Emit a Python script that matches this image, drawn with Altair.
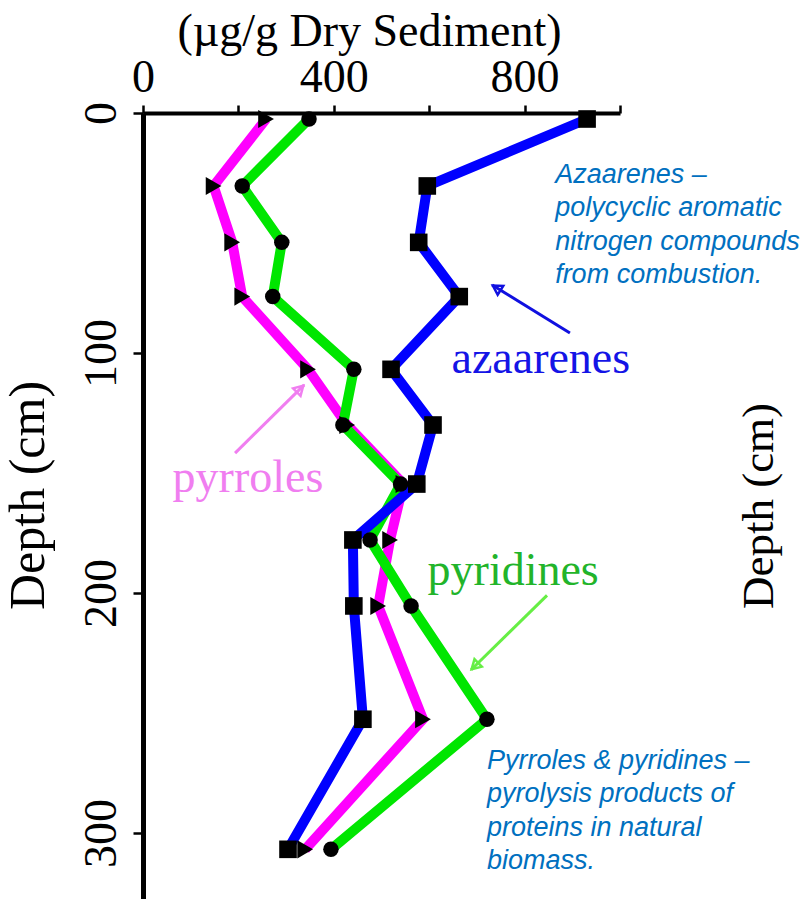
import altair as alt
import pandas as pd

# ---- data ----
depth = [2.5, 30.4, 53.9, 76.5, 106.8, 130.0, 154.6, 177.9, 205.4, 252.6, 306.8]
azaarenes = [931, 596, 578, 663, 520, 608, 574, 440, 442, 461, 304]
pyrroles = [258, 148, 187, 208, 346, 428, 546, 518, 493, 587, 340]
pyridines = [348, 208, 291, 272, 442, 419, 540, 476, 562, 721, 394]

series_names = ["pyrroles", "pyridines", "azaarenes"]
series_values = [pyrroles, pyridines, azaarenes]
series_colors = ["#ff00ff", "#00e600", "#0000ff"]
series_shapes = ["triangle-right", "circle", "square"]
series_sizes = [330, 240, 310]

x_ticks = [0, 200, 400, 600, 800, 1000]
y_ticks = [0, 100, 200, 300]

# in-plot labels
label_text = ["azaarenes", "pyrroles", "pyridines"]
label_x = [834, 220, 776]
label_depth = [108.3, 158.0, 196.7]
label_color = ["#1414e6", "#f07ef0", "#22b42a"]

# arrows (tail -> head) in data units
arrow_x = [895, 193, 847]
arrow_depth = [91.7, 141.7, 201.0]
arrow_x2 = [732, 338, 688]
arrow_depth2 = [71.7, 113.3, 232.0]
arrow_head_x = [744, 327, 698]
arrow_head_depth = [73.2, 115.4, 230.0]
arrow_angle = [302, 45, 226]
arrow_color = ["#1010e0", "#f07ef0", "#66ee44"]

notes = ["Azaarenes –\npolycyclic aromatic\nnitrogen compounds\nfrom combustion.",
         "Pyrroles & pyridines –\npyrolysis products of\nproteins in natural\nbiomass."]
note_x = [864, 721]
note_depth = [29.2, 273.3]

right_title = "Depth   (cm)"
right_title_x = [1321]
right_title_depth = [163.75]

SERIF = "Liberation Serif"
SANS = "Liberation Sans"

xscale = alt.Scale(domain=[0, 1000], nice=False, zero=False)
yscale = alt.Scale(domain=[0, 327.5], reverse=True, nice=False, zero=False)

xaxis = alt.Axis(
    orient="top", values=x_ticks,
    labelExpr="(datum.value == 0 || datum.value == 400 || datum.value == 800) ? datum.label : ''",
    labelFont=SERIF, labelFontSize=46, labelColor="black", labelFlush=False,
    labelOverlap=False, labelPadding=14, labelBaseline="alphabetic",
    tickSize=8, tickWidth=2.5, tickColor="black",
    domainColor="black", domainWidth=4, grid=False,
    title="(µg/g Dry Sediment)", titleFont=SERIF, titleFontSize=46,
    titleFontWeight="normal", titleColor="black", titleX=226, titleY=-68,
    titleAlign="center", titleBaseline="alphabetic", titleAngle=0,
)
yaxis = alt.Axis(
    orient="left", values=y_ticks,
    labelAngle=270, labelAlign="center", labelBaseline="alphabetic",
    labelFont=SERIF, labelFontSize=46, labelColor="black", labelPadding=18,
    labelFlush=False, labelOverlap=False,
    tickSize=10, tickWidth=2.5, tickColor="black",
    domainColor="black", domainWidth=5, grid=False,
    title="Depth   (cm)", titleFont=SERIF, titleFontSize=50,
    titleFontWeight="normal", titleColor="black", titleX=-100, titleY=382,
    titleAngle=270, titleAlign="center", titleBaseline="alphabetic",
)


def X(field):
    return alt.X(field, scale=xscale, axis=xaxis)


def Y(field):
    return alt.Y(field, scale=yscale, axis=yaxis)


rows = []
for name, vals in zip(series_names, series_values):
    for d, v in zip(depth, vals):
        rows.append({"series": name, "depth": d, "value": v})
df = pd.DataFrame(rows)

layers = []
for name, col in zip(series_names, series_colors):
    sub = df[df.series == name]
    layers.append(
        alt.Chart(sub).mark_line(strokeWidth=10, color=col, strokeJoin="miter").encode(
            x=X("value:Q"), y=Y("depth:Q"), order=alt.Order("depth:Q"),
        )
    )

for name, shp, sz in zip(series_names, series_shapes, series_sizes):
    sub = df[df.series == name]
    layers.append(
        alt.Chart(sub).mark_point(filled=True, color="black", opacity=1, shape=shp, size=sz).encode(
            x=X("value:Q"), y=Y("depth:Q"),
        )
    )

lab_df = pd.DataFrame({"value": label_x, "depth": label_depth, "t": label_text, "c": label_color})
layers.append(
    alt.Chart(lab_df).mark_text(font=SERIF, fontSize=46, align="center", baseline="alphabetic").encode(
        x=X("value:Q"), y=Y("depth:Q"),
        text="t:N",
        color=alt.Color("c:N", scale=None),
    )
)

arr_df = pd.DataFrame({"value": arrow_x, "depth": arrow_depth, "x2": arrow_x2, "d2": arrow_depth2,
                       "c": arrow_color})
layers.append(
    alt.Chart(arr_df).mark_rule(strokeWidth=3).encode(
        x=X("value:Q"), y=Y("depth:Q"),
        x2="x2:Q", y2="d2:Q",
        color=alt.Color("c:N", scale=None),
    )
)
head_df = pd.DataFrame({"value": arrow_head_x, "depth": arrow_head_depth, "a": arrow_angle, "c": arrow_color})
layers.append(
    alt.Chart(head_df).mark_point(shape="triangle", filled=False, size=110, strokeWidth=2.5, opacity=1).encode(
        x=X("value:Q"), y=Y("depth:Q"),
        angle=alt.Angle("a:Q", scale=None),
        color=alt.Color("c:N", scale=None),
    )
)

note_df = pd.DataFrame({"value": note_x, "depth": note_depth, "t": notes})
layers.append(
    alt.Chart(note_df).mark_text(font=SANS, fontSize=27, fontStyle="italic", color="#0070c0",
                                 align="left", baseline="alphabetic", lineBreak="\n", lineHeight=33.3).encode(
        x=X("value:Q"), y=Y("depth:Q"),
        text="t:N",
    )
)

rt_df = pd.DataFrame({"value": right_title_x, "depth": right_title_depth, "t": [right_title]})
layers.append(
    alt.Chart(rt_df).mark_text(font=SERIF, fontSize=45, color="black", angle=270,
                               align="center", baseline="alphabetic").encode(
        x=X("value:Q"), y=Y("depth:Q"),
        text="t:N",
    )
)

chart = alt.layer(*layers).properties(
    width=477, height=786,
    padding={"left": 143, "top": 113, "right": 186, "bottom": 0},
    autosize=alt.AutoSizeParams(type="none"),
    background="white",
).configure_view(stroke=None)

chart.save("out.html", embed_options={"renderer": "svg", "actions": False})
